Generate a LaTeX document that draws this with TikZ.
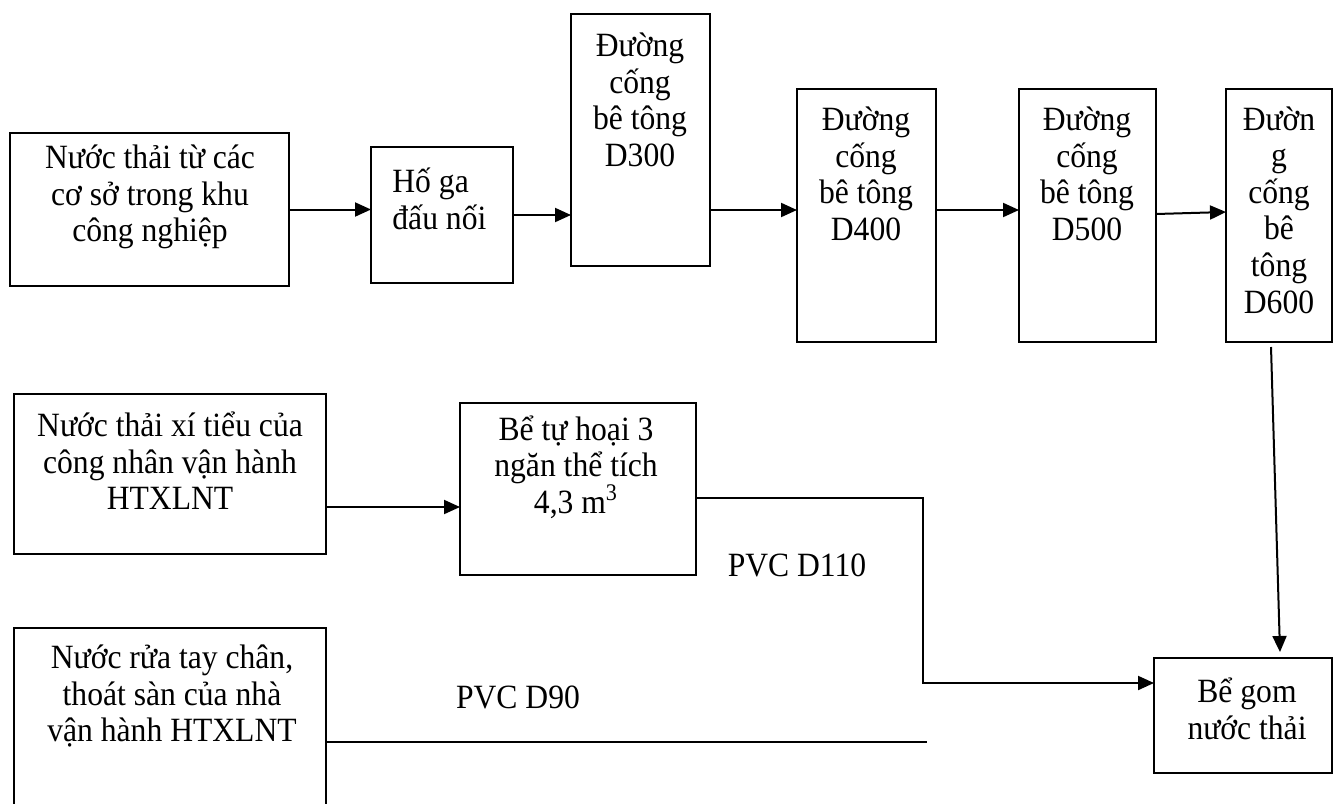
\documentclass[tikz,border=0pt]{standalone}
\usepackage{fontspec}
\setmainfont{Liberation Serif}[FakeStretch=0.93]
\usetikzlibrary{arrows.meta}
\begin{document}
\begin{tikzpicture}[x=0.5pt,y=-0.5pt,
  box/.style={draw,line width=1pt,inner sep=0pt,outer sep=0pt},
  nobox/.style={inner sep=0pt,outer sep=0pt},
  txt/.style={inner sep=0pt,align=center,font=\fontsize{17}{18.3}\selectfont},
  arr/.style={line width=1pt,-{Triangle[length=8pt,width=7pt]}},
  ln/.style={line width=1pt}]
\useasboundingbox (0,0) rectangle (1336,803);
% boxes
\node[box,minimum width=139.5pt,minimum height=76.5pt] (b1) at (149.5,209.5) {};
\node[box,minimum width=71pt,minimum height=68pt] (b2) at (442,215) {};
\node[box,minimum width=69.5pt,minimum height=126pt] (b3) at (640.5,140) {};
\node[box,minimum width=69.5pt,minimum height=126.5pt] (b4) at (866.5,215.5) {};
\node[box,minimum width=68.5pt,minimum height=126.5pt] (b5) at (1087.5,215.5) {};
\node[box,minimum width=53pt,minimum height=126.5pt] (b6) at (1279,215.5) {};
\node[box,minimum width=89pt,minimum height=57.5pt] (b7) at (1243,715.5) {};
\node[box,minimum width=156pt,minimum height=80pt] (b8) at (170,474) {};
\node[box,minimum width=118pt,minimum height=86pt] (b9) at (578,489) {};
\node[nobox,minimum width=156pt,minimum height=90pt] (b10) at (170,718) {};
\draw[ln] (b10.south west) -- (b10.north west) -- (b10.north east) -- (b10.south east);
% texts
\node[txt] (t1) at (150,197) {Nước thải từ các\\cơ sở trong khu\\công nghiệp};
\node[txt,align=left,anchor=west] (t2) at (392,199) {Hố ga\\đấu nối};
\node[txt] (t3) at (640,100) {Đường\\cống\\bê tông\\D300};
\node[txt] (t4) at (866,174) {Đường\\cống\\bê tông\\D400};
\node[txt] (t5) at (1087,174) {Đường\\cống\\bê tông\\D500};
\node[txt] (t6) at (1279,210) {Đườn\\g\\cống\\bê\\tông\\D600};
\node[txt] (t7) at (1247,709) {Bể gom\\nước thải};
\node[txt] (t8) at (170,461) {Nước thải xí tiểu của\\công nhân vận hành\\HTXLNT};
\node[txt] (t9) at (576,467) {Bể tự hoại 3\\ngăn thể tích\\4,3 m\textsuperscript{3}};
\node[txt] (t10) at (172,696) {Nước rửa tay chân,\\thoát sàn của nhà\\vận hành HTXLNT};
\node[txt] (l1) at (797,565) {PVC D110};
\node[txt] (l2) at (518,697) {PVC D90};
% connector points
\coordinate (p4) at ([yshift=2.75pt]b4.west);
\coordinate (q4) at ([yshift=2.75pt]b4.east);
\coordinate (p5) at ([yshift=2.75pt]b5.west);
\coordinate (q5) at ([yshift=0.75pt]b5.east);
\coordinate (p6) at ([yshift=1.75pt]b6.west);
\coordinate (q6) at ([xshift=-4pt,yshift=-2.5pt]b6.south);
\coordinate (p7n) at ([xshift=18.5pt,yshift=3pt]b7.north);
\coordinate (p7w) at ([yshift=16.25pt]b7.west);
\coordinate (q8) at ([yshift=-16.5pt]b8.east);
\coordinate (k1) at (923,498);
\coordinate (d90) at (927,742);
% connectors
\draw[arr] (b1.east) -- (b2.west |- b1.east);
\draw[arr] (b2.east) -- (b3.west |- b2.east);
\draw[arr] (b3.east |- p4) -- (p4);
\draw[arr] (q4) -- (p5);
\draw[arr] (q5) -- (p6);
\draw[arr] (q6) -- (p7n);
\draw[arr] (q8) -- (b9.west |- q8);
\draw[arr] (b9.east |- k1) -- (k1) -- (k1 |- p7w) -- (p7w);
\draw[ln] (b10.east |- d90) -- (d90);
\end{tikzpicture}
\end{document}
